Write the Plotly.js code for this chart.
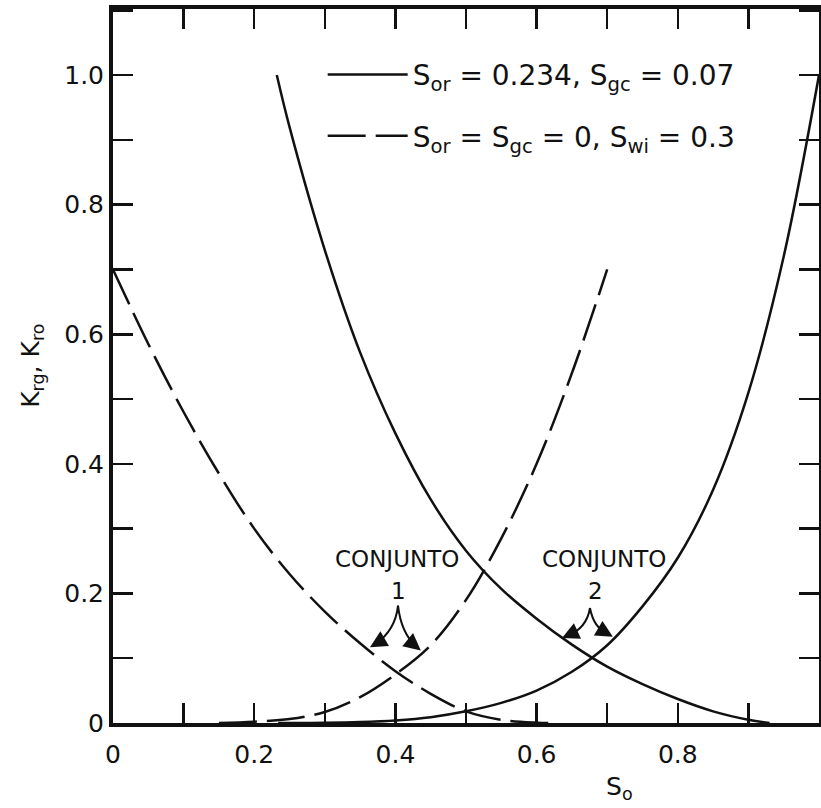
<!DOCTYPE html>
<html>
<head>
<meta charset="utf-8">
<script src="https://cdn.plot.ly/plotly-3.0.1.min.js"></script>
<style>
  html, body { margin: 0; padding: 0; background: #fff; }
  #chart { width: 821px; height: 808px; }
</style>
</head>
<body>
<div id="chart"></div>
<script>
// Set 2: Sor = 0.234, Sgc = 0.07 (solid lines)
const soKrgSolid = [0.232, 0.25, 0.30, 0.35, 0.40, 0.45, 0.50, 0.55, 0.60, 0.65, 0.70, 0.75, 0.80, 0.85, 0.90, 0.93];
const krgSolid   = [1.00, 0.92, 0.73, 0.572, 0.447, 0.345, 0.266, 0.207, 0.161, 0.121, 0.087, 0.060, 0.037, 0.018, 0.005, 0.0];
const soKroSolid = [0.234, 0.30, 0.35, 0.40, 0.45, 0.50, 0.55, 0.60, 0.65, 0.70, 0.75, 0.80, 0.85, 0.90, 0.95, 1.0];
const kroSolid   = [0.0, 0.0004, 0.0015, 0.004, 0.009, 0.018, 0.031, 0.050, 0.079, 0.120, 0.180, 0.255, 0.360, 0.510, 0.720, 1.0];

// Set 1: Sor = Sgc = 0, Swi = 0.3 (dashed lines)
const soKrgDash = [0.0, 0.05, 0.10, 0.15, 0.20, 0.25, 0.30, 0.35, 0.40, 0.45, 0.50, 0.55, 0.60, 0.62];
const krgDash   = [0.70, 0.585, 0.48, 0.385, 0.30, 0.23, 0.172, 0.123, 0.080, 0.045, 0.018, 0.005, 0.0005, 0.0];
const soKroDash = [0.15, 0.20, 0.25, 0.30, 0.35, 0.40, 0.45, 0.50, 0.55, 0.60, 0.65, 0.70];
const kroDash   = [0.0, 0.002, 0.006, 0.017, 0.040, 0.075, 0.120, 0.190, 0.285, 0.400, 0.540, 0.700];

// Labelled ticks every 0.2; unlabelled minor ticks every 0.1
const xTickVals = [0, 0.2, 0.4, 0.6, 0.8];
const xTickText = ['0', '0.2', '0.4', '0.6', '0.8'];
const yTickVals = [0, 0.2, 0.4, 0.6, 0.8, 1.0];
const yTickText = ['0', '0.2', '0.4', '0.6', '0.8', '1.0'];

const legendSolid = 'S<sub>or</sub> = 0.234, S<sub>gc</sub> = 0.07';
const legendDash  = 'S<sub>or</sub> = S<sub>gc</sub> = 0, S<sub>wi</sub> = 0.3';

const INK = '#111';
const FONT = 'DejaVu Sans';
const dashPattern = '38px,10px';

function curve(x, y, dash, name, group, show) {
  return {
    x: x, y: y, type: 'scatter', mode: 'lines', name: name,
    legendgroup: group, showlegend: show,
    line: { color: INK, width: 2.5, dash: dash, shape: 'spline', smoothing: 1 },
    hoverinfo: 'skip'
  };
}

const traces = [
  curve(soKrgSolid, krgSolid, 'solid', legendSolid, 'g1', true),
  curve(soKroSolid, kroSolid, 'solid', legendSolid, 'g1', false),
  curve(soKrgDash, krgDash, dashPattern, legendDash, 'g2', true),
  curve(soKroDash, kroDash, dashPattern, legendDash, 'g2', false)
];

const axisCommon = {
  tickmode: 'array',
  ticks: 'inside', ticklen: 20, tickwidth: 2.5, tickcolor: INK,
  minor: { ticks: 'inside', ticklen: 20, tickwidth: 2.5, tickcolor: INK, dtick: 0.1, tick0: 0, showgrid: false },
  showline: true, linewidth: 4, linecolor: INK, mirror: 'ticks',
  showgrid: false, zeroline: false,
  tickfont: { family: FONT, size: 25, color: INK },
  fixedrange: true
};

// Curved pointers beneath the two CONJUNTO labels
const forkPaths = [
  'M0.4037,0.181 Q0.400,0.143 0.372,0.122',
  'M0.4037,0.181 Q0.408,0.139 0.430,0.117',
  'M0.6756,0.1775 Q0.671,0.146 0.643,0.134',
  'M0.6756,0.1775 Q0.681,0.146 0.702,0.137'
];
const shapes = forkPaths.map(p => ({
  type: 'path', xref: 'x', yref: 'y', path: p,
  line: { color: INK, width: 2 }
}));

function arrowHead(x, y, ax, ay) {
  return { x: x, y: y, xref: 'x', yref: 'y', text: '', showarrow: true,
           ax: ax, ay: ay, arrowhead: 2, arrowsize: 1.7, arrowwidth: 2, arrowcolor: INK };
}

function label(text, x, y, size) {
  return { x: x, y: y, xref: 'x', yref: 'y', text: text, showarrow: false,
           font: { family: FONT, size: size, color: INK }, xanchor: 'center', yanchor: 'middle' };
}

const annotations = [
  label('CONJUNTO', 0.402, 0.253, 23),
  label('1', 0.404, 0.204, 23),
  label('CONJUNTO', 0.696, 0.253, 23),
  label('2', 0.683, 0.204, 23),
  arrowHead(0.364, 0.117, 12, -7),
  arrowHead(0.436, 0.112, -11, -9),
  arrowHead(0.636, 0.131, 13, -6),
  arrowHead(0.708, 0.133, -12, -7),
  { x: -0.115, y: 0.5, xref: 'paper', yref: 'paper', text: 'K<sub>rg</sub>, K<sub>ro</sub>',
    textangle: -90, showarrow: false, font: { family: FONT, size: 25, color: INK },
    xanchor: 'center', yanchor: 'middle' },
  { x: 0.718, y: -0.1165, xref: 'paper', yref: 'paper', text: 'S<sub>o</sub>',
    showarrow: false, font: { family: FONT, size: 25, color: INK },
    xanchor: 'center', yanchor: 'bottom' }
];

const layout = {
  width: 821, height: 808,
  margin: { l: 113, r: 2, t: 9, b: 85 },
  paper_bgcolor: '#fff', plot_bgcolor: '#fff',
  showlegend: true,
  legend: {
    x: 0.297, y: 0.943, xanchor: 'left', yanchor: 'top',
    bgcolor: 'rgba(0,0,0,0)', borderwidth: 0,
    font: { family: FONT, size: 28, color: INK },
    itemwidth: 80, tracegroupgap: 22, traceorder: 'grouped'
  },
  xaxis: Object.assign({}, axisCommon, { range: [0, 1], tickvals: xTickVals, ticktext: xTickText, ticklabelstandoff: 6 }),
  yaxis: Object.assign({}, axisCommon, { range: [0, 1.102], tickvals: yTickVals, ticktext: yTickText }),
  shapes: shapes,
  annotations: annotations
};

Plotly.newPlot('chart', traces, layout, { displayModeBar: false, staticPlot: true });
</script>
</body>
</html>
